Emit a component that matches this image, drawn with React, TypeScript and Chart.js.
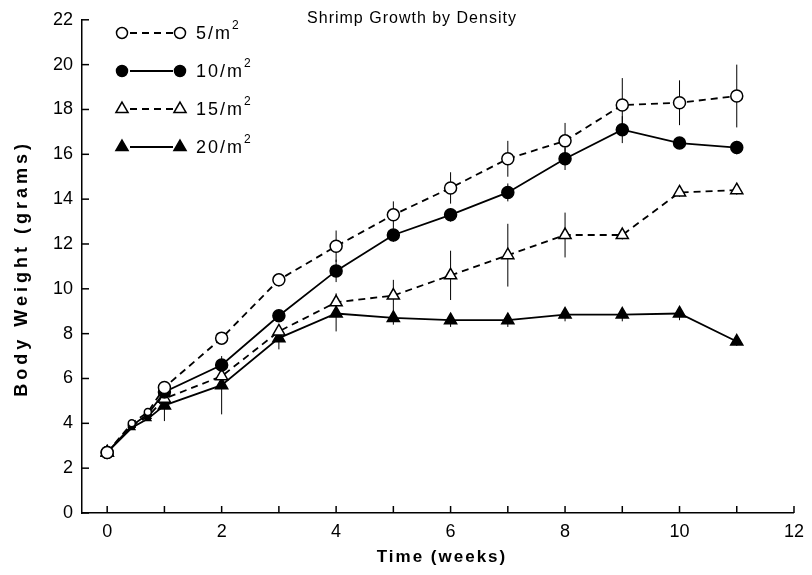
import React, { useEffect, useRef } from "react";
import { Chart, registerables } from "chart.js";

Chart.register(...registerables);

// ---- data ----
const weeks = [0, 0.43, 0.71, 1, 2, 3, 4, 5, 6, 7, 8, 9, 10, 11];
const seriesLabels = ["5/m²", "10/m²", "15/m²", "20/m²"];
const density5 = [2.7, 4.0, 4.5, 5.6, 7.8, 10.4, 11.9, 13.3, 14.5, 15.8, 16.6, 18.2, 18.3, 18.6];
const density10 = [2.7, 3.9, 4.4, 5.4, 6.6, 8.8, 10.8, 12.4, 13.3, 14.3, 15.8, 17.1, 16.5, 16.3];
const density15 = [2.7, 3.9, 4.3, 5.1, 6.1, 8.1, 9.4, 9.7, 10.6, 11.5, 12.4, 12.4, 14.3, 14.4];
const density20 = [2.7, 3.8, 4.2, 4.8, 5.7, 7.8, 8.9, 8.7, 8.6, 8.6, 8.85, 8.85, 8.9, 7.65];
const err5 = [0, 0, 0, 0.2, 0.2, 0.3, 0.7, 0.6, 0.7, 0.8, 0.8, 1.2, 1.0, 1.4];
const err10 = [0, 0, 0, 0.2, 0.2, 0.2, 0.5, 0.3, 0.3, 0.4, 0.5, 0.6, 0.2, 0.3];
const err15 = [0, 0, 0, 0.3, 0.3, 0.3, 0.4, 0.7, 1.1, 1.4, 1.0, 0.2, 0.2, 0.2];
const err20 = [0, 0, 0, 0.7, 1.3, 0.5, 0.8, 0.3, 0.3, 0.3, 0.3, 0.3, 0.3, 0.2];
const xTickValues = [0, 1, 2, 3, 4, 5, 6, 7, 8, 9, 10, 11, 12];
const yTickValues = [0, 2, 4, 6, 8, 10, 12, 14, 16, 18, 20, 22];
const chartTitle = "Shrimp Growth by Density";
const xTitle = "Time (weeks)";
const yTitle = "Body Weight (grams)";

const allValues = [density5, density10, density15, density20];
const allErrors = [err5, err10, err15, err20];
const styles = [
  { shape: "circle", fill: "#fff", dash: [7, 5] },
  { shape: "circle", fill: "#000", dash: [] },
  { shape: "triangle", fill: "#fff", dash: [7, 5] },
  { shape: "triangle", fill: "#000", dash: [] },
];
const FONT = "'Liberation Sans', Arial, sans-serif";

function marker(ctx: CanvasRenderingContext2D, shape: string, fill: string, x: number, y: number, r: number) {
  ctx.save();
  ctx.setLineDash([]);
  ctx.lineWidth = 1.5;
  ctx.strokeStyle = "#000";
  ctx.fillStyle = fill;
  ctx.beginPath();
  if (shape === "circle") {
    ctx.arc(x, y, r, 0, Math.PI * 2);
  } else {
    let a = 0;
    ctx.moveTo(x + Math.sin(a) * r, y - Math.cos(a) * r);
    a += (2 * Math.PI) / 3;
    ctx.lineTo(x + Math.sin(a) * r, y - Math.cos(a) * r);
    a += (2 * Math.PI) / 3;
    ctx.lineTo(x + Math.sin(a) * r, y - Math.cos(a) * r);
    ctx.closePath();
  }
  ctx.fill();
  ctx.stroke();
  ctx.restore();
}

const decorPlugin = {
  id: "decor",
  beforeDatasetsDraw(chart: any) {
    const { ctx, scales } = chart;
    ctx.save();
    ctx.strokeStyle = "#000";
    ctx.lineWidth = 1;
    allErrors.forEach((errs, si) => {
      errs.forEach((e, i) => {
        if (!e) return;
        const x = scales.x.getPixelForValue(weeks[i]);
        const v = allValues[si][i];
        ctx.beginPath();
        ctx.moveTo(x, scales.y.getPixelForValue(v - e));
        ctx.lineTo(x, scales.y.getPixelForValue(v + e));
        ctx.stroke();
      });
    });
    ctx.restore();
  },
  afterDraw(chart: any) {
    const { ctx, scales, chartArea } = chart;
    ctx.save();
    ctx.strokeStyle = "#000";
    ctx.lineWidth = 1.5;
    // inward tick marks
    xTickValues.forEach((v) => {
      const x = scales.x.getPixelForValue(v);
      ctx.beginPath();
      ctx.moveTo(x, chartArea.bottom);
      ctx.lineTo(x, chartArea.bottom - 7);
      ctx.stroke();
    });
    yTickValues.forEach((v) => {
      const y = scales.y.getPixelForValue(v);
      ctx.beginPath();
      ctx.moveTo(chartArea.left, y);
      ctx.lineTo(chartArea.left + 7, y);
      ctx.stroke();
    });
    ctx.fillStyle = "#000";
    // title
    (ctx as any).letterSpacing = "1px";
    ctx.font = `16px ${FONT}`;
    ctx.textAlign = "center";
    ctx.textBaseline = "middle";
    ctx.fillText(chartTitle, 412, 19);
    // axis titles
    (ctx as any).letterSpacing = "2px";
    ctx.font = `bold 17px ${FONT}`;
    ctx.fillText(xTitle, (chartArea.left + chartArea.right) / 2 + 4, 557);
    ctx.save();
    ctx.translate(22, (chartArea.top + chartArea.bottom) / 2 + 2);
    ctx.rotate(-Math.PI / 2);
    (ctx as any).letterSpacing = "4px";
    ctx.font = `bold 18px ${FONT}`;
    ctx.fillText(yTitle, 0, 0);
    ctx.restore();
    // legend
    const rowY = [33, 71, 109, 147];
    seriesLabels.forEach((lab, i) => {
      const y = rowY[i];
      const st = styles[i];
      ctx.save();
      ctx.lineWidth = 1.8;
      ctx.setLineDash(st.dash);
      ctx.beginPath();
      ctx.moveTo(130, y);
      ctx.lineTo(173, y);
      ctx.stroke();
      ctx.restore();
      const r = st.shape === "circle" ? 5.5 : 7;
      marker(ctx, st.shape, st.fill, 122, y, r);
      marker(ctx, st.shape, st.fill, 180, y, r);
      const base = lab.replace("²", "");
      ctx.textAlign = "left";
      ctx.textBaseline = "middle";
      (ctx as any).letterSpacing = "2px";
      ctx.font = `18px ${FONT}`;
      ctx.fillText(base, 196, y + 1);
      const w = ctx.measureText(base).width;
      ctx.font = `12px ${FONT}`;
      (ctx as any).letterSpacing = "0px";
      ctx.fillText("2", 196 + w, y - 7);
    });
    ctx.restore();
  },
};

export default function App() {
  const ref = useRef<HTMLCanvasElement | null>(null);
  useEffect(() => {
    if (!ref.current) return;
    const datasets = allValues.map((vals, si) => ({
      label: seriesLabels[si],
      data: vals.map((v, i) => ({ x: weeks[i], y: v })),
      borderColor: "#000",
      borderWidth: 1.8,
      borderDash: styles[si].dash,
      backgroundColor: styles[si].fill,
      pointBackgroundColor: styles[si].fill,
      pointBorderColor: "#000",
      pointBorderWidth: 1.5,
      pointStyle: styles[si].shape,
      pointRadius: weeks.map((w, i) => (i === 1 || i === 2 ? 3.5 : styles[si].shape === "circle" ? 6 : 7)),
      tension: 0,
      fill: false,
    }));
    const chart = new Chart(ref.current, {
      type: "line",
      data: { datasets } as any,
      options: {
        animation: false,
        responsive: false,
        layout: { padding: { top: 14, right: 17, left: 0, bottom: 0 } },
        plugins: {
          legend: { display: false },
          title: { display: false },
          tooltip: { enabled: false },
        },
        scales: {
          x: {
            type: "linear",
            min: -0.44,
            max: 12,
            afterBuildTicks: (s: any) => {
              s.ticks = xTickValues.map((v) => ({ value: v }));
            },
            afterFit: (s: any) => {
              s.height = 62;
            },
            grid: { display: false, drawTicks: false },
            border: { display: true, color: "#000", width: 1.5 },
            ticks: {
              autoSkip: false,
              maxRotation: 0,
              padding: 8,
              color: "#000",
              font: { family: FONT, size: 18 },
              callback: (v: any) => (Number(v) % 2 === 0 ? String(v) : ""),
            },
          },
          y: {
            type: "linear",
            min: 0,
            max: 22,
            afterBuildTicks: (s: any) => {
              s.ticks = yTickValues.map((v) => ({ value: v }));
            },
            afterFit: (s: any) => {
              s.width = 82;
            },
            grid: { display: false, drawTicks: false },
            border: { display: true, color: "#000", width: 1.5 },
            ticks: {
              padding: 9,
              color: "#000",
              font: { family: FONT, size: 18 },
              callback: (v: any) => String(v),
            },
          },
        },
      },
      plugins: [decorPlugin],
    });
    return () => chart.destroy();
  }, []);
  return (
    <div style={{ position: "fixed", left: 0, top: 0, width: 812, height: 575, background: "#fff" }}>
      <canvas ref={ref} width={812} height={575} />
    </div>
  );
}
